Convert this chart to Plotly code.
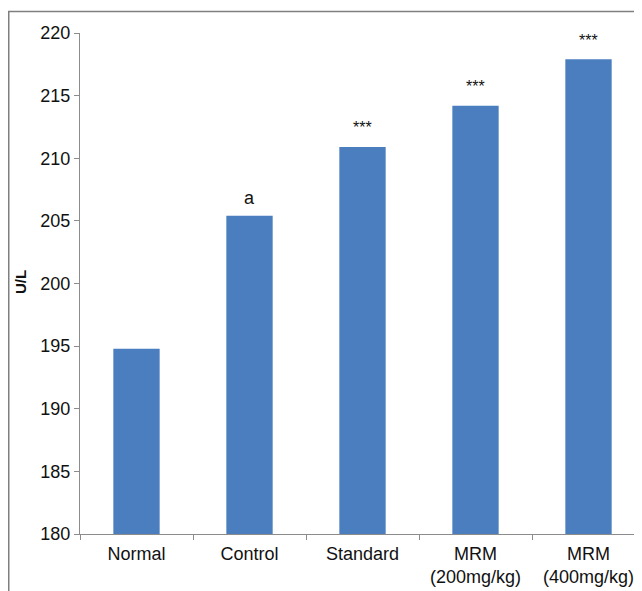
import plotly.graph_objects as go

categories = ["Normal", "Control", "Standard", "MRM<br>(200mg/kg)", "MRM<br>(400mg/kg)"]
values = [194.8, 205.4, 210.9, 214.2, 217.9]
marks = ["", "a", "***", "***", "***"]
y_ticks = [180, 185, 190, 195, 200, 205, 210, 215, 220]

FONT = "Liberation Sans, Arial, sans-serif"
BAR = "#4A7EBF"
AX = "#8c8c8c"
TXT = "#111111"

L, T, PW, PH = 72, 25, 562, 501

fig = go.Figure(go.Bar(
    x=categories, y=values, marker=dict(color=BAR, line=dict(width=0)),
    width=0.41,
))

for c, v, m in zip(categories, values, marks):
    if not m:
        continue
    is_star = m.startswith("*")
    fig.add_annotation(
        x=c, y=v, text=m, showarrow=False, yanchor="middle",
        yshift=19 if is_star else 18,
        font=dict(family=FONT, size=16 if is_star else 18, color=TXT),
    )

# y-axis title
fig.add_annotation(
    xref="paper", yref="paper", x=(12 - L) / PW, y=(T + PH - 274) / PH,
    text="<b>U/L</b>", textangle=-90, showarrow=False,
    font=dict(family=FONT, size=15, color=TXT),
    xanchor="center", yanchor="middle",
)

# outer frame
fig.add_shape(
    type="rect", xref="paper", yref="paper",
    x0=(0.75 - L) / PW, x1=1.2, y0=-0.3, y1=1 + (T - 3.5) / PH,
    line=dict(color="#7f7f7f", width=1.5), fillcolor="rgba(0,0,0,0)", layer="below",
)

fig.update_layout(
    width=642, height=591,
    margin=dict(l=L, r=642 - L - PW, t=T, b=591 - T - PH),
    paper_bgcolor="white", plot_bgcolor="white",
    showlegend=False,
    font=dict(family=FONT, size=18, color=TXT),
    xaxis=dict(
        range=[-0.5, -0.5 + PW / 113], showline=True, linecolor=AX, linewidth=1,
        ticks="outside", tickson="boundaries", ticklen=5, tickcolor=AX,
        showgrid=False, zeroline=False, fixedrange=True, ticklabelstandoff=3,
        tickfont=dict(family=FONT, size=18, color=TXT),
    ),
    yaxis=dict(
        range=[180, 220], tickvals=y_ticks, showline=True, linecolor=AX, linewidth=1,
        ticks="outside", ticklen=5, tickcolor=AX, showgrid=False, zeroline=False,
        tickfont=dict(family=FONT, size=18, color=TXT),
    ),
)

fig.write_html("out.html")
